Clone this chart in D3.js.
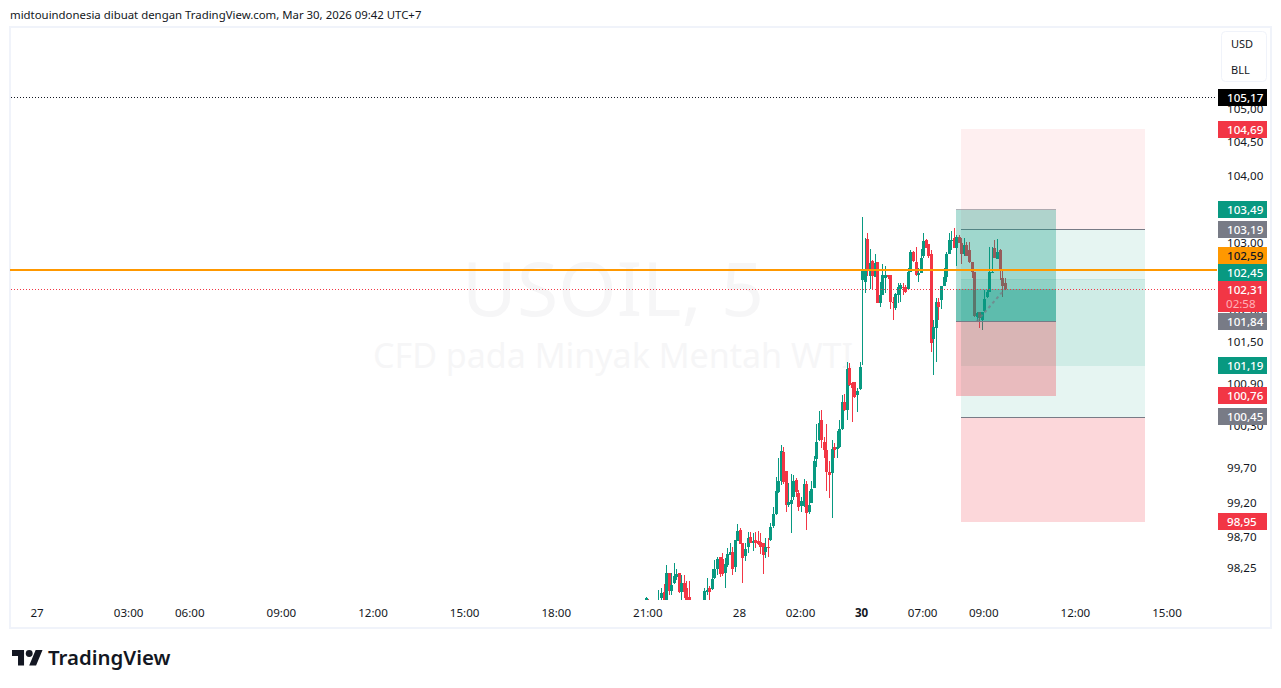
<!DOCTYPE html>
<html>
<head>
<meta charset="utf-8">
<script src="https://cdn.jsdelivr.net/npm/d3@7"></script>
<style>
  html, body { margin: 0; padding: 0; background: #fff; overflow: hidden; }
  svg { display: block; }
  text { font-family: "Noto Sans", sans-serif; }
</style>
</head>
<body>
<div id="chart"></div>
<script>
// 5 minute candles, first one sits 85 bars left of the "30" session open
const firstBar = -85;
const open = [
  97.78, 97.85, 97.70, 97.74, 97.70, 97.77, 97.88, 97.96, 97.79, 98.23,
  97.98, 98.09, 98.17, 98.23, 97.96, 98.09, 98.02, 97.89, 97.79, 97.72,
  97.65, 97.70, 97.66, 97.77, 97.96, 98.02, 98.00, 98.16, 98.29, 98.46,
  98.43, 98.23, 98.34, 98.48, 98.53, 98.31, 98.68, 98.84, 98.65, 98.47,
  98.60, 98.74, 98.65, 98.70, 98.68, 98.67, 98.65, 98.53, 98.60, 98.70,
  98.89, 99.06, 99.38, 99.53, 99.95, 99.68, 99.19, 99.21, 99.31, 99.55,
  99.36, 99.18, 99.18, 99.49, 99.09, 99.22, 99.43, 99.85, 100.12, 100.41,
  100.09, 99.98, 99.66, 99.65, 100.02, 99.99, 100.02, 100.28, 100.67, 100.55,
  101.16, 100.94, 100.96, 100.77, 100.86, 102.45, 102.42, 103.05, 102.51, 102.73,
  102.49, 102.71, 102.11, 102.23, 102.48, 102.53, 102.53, 102.12, 102.04, 102.23,
  102.31, 102.34, 102.34, 102.31, 102.56, 102.86, 102.71, 102.52, 102.55, 102.80,
  103.04, 102.98, 102.83, 101.58, 101.74, 102.12, 102.15, 102.36, 102.49, 102.83,
  103.02, 103.07, 102.92, 103.09, 102.99, 102.83, 102.96, 102.89, 102.71, 102.56,
  101.90, 101.98, 101.86, 101.99, 102.20, 102.27, 102.55, 102.92, 102.76, 102.89,
  102.48, 102.40
];
const high = [
  97.89, 97.86, 97.76, 97.77, 97.80, 97.99, 98.02, 98.07, 98.34, 98.23,
  98.23, 98.37, 98.29, 98.23, 98.20, 98.20, 98.12, 98.12, 97.80, 97.75,
  97.74, 97.73, 97.78, 98.02, 98.16, 98.05, 98.29, 98.41, 98.46, 98.46,
  98.51, 98.44, 98.58, 98.65, 98.60, 98.70, 98.92, 98.86, 98.65, 98.65,
  98.81, 98.81, 98.79, 98.81, 98.82, 98.79, 98.65, 98.72, 98.72, 98.93,
  99.16, 99.59, 99.86, 100.05, 100.02, 99.68, 99.51, 99.63, 99.62, 99.58,
  99.41, 99.31, 99.56, 99.53, 99.39, 99.53, 99.89, 100.35, 100.54, 100.55,
  100.16, 100.35, 99.82, 100.12, 100.08, 100.25, 100.41, 100.77, 100.78, 101.25,
  101.23, 100.96, 100.96, 100.87, 101.25, 103.38, 103.07, 103.15, 102.90, 102.74,
  102.83, 102.71, 102.42, 102.68, 102.65, 102.53, 102.53, 102.20, 102.26, 102.40,
  102.40, 102.40, 102.37, 102.62, 102.89, 102.87, 102.93, 102.62, 102.90, 103.14,
  103.05, 102.98, 102.89, 101.86, 102.18, 102.18, 102.36, 102.62, 102.86, 103.14,
  103.17, 103.21, 103.11, 103.12, 103.07, 103.07, 103.01, 103.01, 102.71, 102.56,
  101.98, 101.98, 101.98, 102.30, 102.30, 102.93, 102.93, 103.04, 103.05, 102.90,
  102.59, 102.48
];
const low = [
  97.71, 97.71, 97.68, 97.66, 97.68, 97.71, 97.77, 97.71, 97.74, 97.92,
  97.92, 98.07, 98.13, 97.95, 97.82, 97.88, 97.77, 97.74, 97.66, 97.60,
  97.62, 97.62, 97.64, 97.74, 97.92, 97.85, 97.99, 98.14, 98.20, 98.17,
  98.19, 98.02, 98.31, 98.48, 98.20, 98.24, 98.68, 98.64, 98.09, 98.40,
  98.51, 98.65, 98.54, 98.58, 98.62, 98.50, 98.21, 98.44, 98.46, 98.68,
  98.86, 99.05, 99.36, 99.48, 99.49, 99.09, 99.16, 98.79, 99.26, 99.31,
  99.11, 99.09, 99.16, 98.84, 99.06, 99.22, 99.43, 99.73, 100.11, 100.01,
  99.86, 99.39, 99.29, 99.01, 99.86, 99.86, 100.01, 100.27, 100.54, 100.41,
  100.90, 100.38, 100.73, 100.52, 100.84, 101.20, 102.26, 102.51, 102.31, 102.31,
  102.49, 102.11, 102.06, 102.23, 102.26, 102.46, 102.02, 101.86, 102.01, 102.11,
  102.12, 102.23, 102.26, 102.30, 102.56, 102.71, 102.51, 102.42, 102.55, 102.78,
  102.92, 102.78, 101.39, 101.06, 101.25, 101.86, 102.02, 102.36, 102.42, 102.83,
  102.89, 102.92, 102.65, 102.99, 102.68, 102.81, 102.81, 102.70, 102.48, 101.90,
  101.85, 101.74, 101.71, 101.98, 102.18, 102.27, 102.55, 102.78, 102.76, 102.45,
  102.20, 102.30
];
const close = [
  97.88, 97.77, 97.74, 97.70, 97.76, 97.85, 97.95, 97.79, 98.23, 97.98,
  98.06, 98.19, 98.21, 97.96, 98.09, 97.96, 97.81, 97.79, 97.72, 97.65,
  97.70, 97.66, 97.74, 97.98, 97.99, 97.96, 98.14, 98.29, 98.43, 98.21,
  98.21, 98.36, 98.50, 98.53, 98.29, 98.70, 98.82, 98.64, 98.44, 98.57,
  98.72, 98.65, 98.68, 98.65, 98.64, 98.60, 98.48, 98.60, 98.58, 98.88,
  99.06, 99.39, 99.53, 99.96, 99.52, 99.19, 99.23, 99.26, 99.53, 99.38,
  99.16, 99.25, 99.49, 99.08, 99.19, 99.42, 99.82, 100.09, 100.37, 100.12,
  99.98, 99.66, 99.62, 99.99, 99.98, 100.02, 100.28, 100.67, 100.55, 101.15,
  100.91, 100.87, 100.74, 100.83, 101.18, 102.58, 102.58, 102.58, 102.70, 102.51,
  102.70, 102.11, 102.23, 102.52, 102.52, 102.49, 102.12, 102.11, 102.24, 102.34,
  102.37, 102.33, 102.27, 102.56, 102.86, 102.73, 102.52, 102.55, 102.78, 103.02,
  102.92, 102.81, 101.52, 101.76, 102.12, 102.05, 102.36, 102.49, 102.83, 103.04,
  103.04, 102.92, 103.08, 102.99, 102.83, 102.96, 102.81, 102.71, 102.56, 101.92,
  101.96, 101.89, 101.98, 102.17, 102.28, 102.56, 102.56, 102.78, 102.86, 102.59,
  102.36, 102.31
];

// price axis
const tickPrices = [105, 104.5, 104, 103, 102, 101.55, 100.93, 100.32, 99.73, 99.23, 98.74, 98.3];
const tickLabels = ["105,00", "104,50", "104,00", "103,00", "102,00", "101,50", "100,90", "100,30", "99,70", "99,20", "98,70", "98,25"];

// time axis, in bars from the "30" open
const timeBars = [-324, -288, -264, -228, -192, -156, -120, -84, -48, -24, 0, 24, 48, 84, 120];
const timeLabels = ["27", "03:00", "06:00", "09:00", "12:00", "15:00", "18:00", "21:00", "28", "02:00", "30", "07:00", "09:00", "12:00", "15:00"];

// price tags on the right
const tagPrices = [105.17, 104.69, 103.49, 103.19, 102.59, 102.45, 102.31, 101.84, 101.19, 100.76, 100.45, 98.95];
const tagTexts = ["105,17", "104,69", "103,49", "103,19", "102,59", "102,45", "102,31", "101,84", "101,19", "100,76", "100,45", "98,95"];
const tagColors = ["#000000", "#f23645", "#089981", "#787b86", "#ff9800", "#089981", "#f23645", "#787b86", "#089981", "#f23645", "#787b86", "#f23645"];

const lastPrice = 102.31;
const countdown = "02:58";
const alertPrice = 102.59;
const highLine = 105.17;

// position tools [left bar, right bar, then prices top to bottom]
const posA = [37, 76, 103.49, 101.84, 100.76];
const posB = [39, 111, 104.69, 103.19, 100.45, 98.95];
const posC = [39, 111, 102.45, 101.19];

const width = 1281, height = 688;
const green = "#089981", red = "#f23645", gray = "#787b86";
const frame = {left: 11, right: 1270, top: 28, bottom: 627};
const plotBottom = 600, plotRight = 1217;

const x = d3.scaleLinear().domain([-324, 120]).range([37.5, 1167.5]);
const y = d3.scaleLog().domain([105.17, 98.95]).range([97.5, 522]);

const svg = d3.select("#chart").append("svg")
    .attr("width", width)
    .attr("height", height);

svg.append("text")
    .attr("x", 10).attr("y", 19)
    .attr("font-size", 11.4).attr("fill", "#131722")
    .text("midtouindonesia dibuat dengan TradingView.com, Mar 30, 2026 09:42 UTC+7");

svg.append("rect")
    .attr("x", frame.left - 1).attr("y", frame.top - 1)
    .attr("width", frame.right - frame.left + 2).attr("height", frame.bottom - frame.top + 2)
    .attr("fill", "#fff").attr("stroke", "#f0f3fa").attr("stroke-width", 2);

// watermark
svg.append("text")
    .attr("x", 613).attr("y", 316).attr("text-anchor", "middle")
    .attr("font-size", 75).attr("fill", "#f6f6f7")
    .attr("font-family", "Lato, sans-serif")
    .text("USOIL, 5");
svg.append("text")
    .attr("x", 613).attr("y", 368).attr("text-anchor", "middle")
    .attr("font-size", 34).attr("fill", "#f6f6f7")
    .attr("font-family", "Lato, sans-serif")
    .text("CFD pada Minyak Mentah WTI");

svg.append("defs").append("clipPath").attr("id", "plot").append("rect")
    .attr("x", frame.left).attr("y", frame.top)
    .attr("width", plotRight - frame.left).attr("height", plotBottom - frame.top);

const plot = svg.append("g").attr("clip-path", "url(#plot)").attr("shape-rendering", "crispEdges");

// candles
const bars = open.map((o, i) => ({i: firstBar + i, o: o, h: high[i], l: low[i], c: close[i]}));
const candle = plot.selectAll("g.candle").data(bars).enter().append("g").attr("class", "candle");
candle.append("rect")
    .attr("x", d => Math.round(x(d.i)))
    .attr("width", 1)
    .attr("y", d => y(d.h))
    .attr("height", d => y(d.l) - y(d.h))
    .attr("fill", d => d.c >= d.o ? green : red);
candle.append("rect")
    .attr("x", d => Math.round(x(d.i)) - 1)
    .attr("width", 3)
    .attr("y", d => y(Math.max(d.o, d.c)))
    .attr("height", d => Math.max(1, Math.abs(y(d.o) - y(d.c))))
    .attr("fill", d => d.c >= d.o ? green : red);

function zone(x0, x1, top, bottom, fill) {
  plot.append("rect")
      .attr("x", x(x0)).attr("width", x(x1) - x(x0))
      .attr("y", y(top)).attr("height", y(bottom) - y(top))
      .attr("fill", fill);
}
function edge(x0, x1, price, color) {
  plot.append("line")
      .attr("x1", x(x0)).attr("x2", x(x1))
      .attr("y1", y(price)).attr("y2", y(price))
      .attr("stroke", color);
}

// wide position
zone(posB[0], posB[1], posB[2], posB[3], "rgba(242,54,69,0.08)");
zone(posB[0], posB[1], posB[3], posB[4], "rgba(8,153,129,0.1)");
zone(posB[0], posB[1], posB[4], posB[5], "rgba(242,54,69,0.2)");
edge(posB[0], posB[1], posB[3], gray);
edge(posB[0], posB[1], posB[4], gray);

// inner green band
zone(posC[0], posC[1], posC[2], posC[3], "rgba(8,153,129,0.1)");
edge(posC[0], posC[1], posC[2], "rgba(8,153,129,0.15)");

// narrow position
zone(posA[0], posA[1], posA[2], posA[3], "rgba(8,153,129,0.32)");
zone(posA[0], posA[1], posA[3], posA[4], "rgba(242,54,69,0.3)");
zone(posA[0], posA[1], lastPrice, posA[3], "rgba(8,153,129,0.36)");
edge(posA[0], posA[1], posA[2], "rgba(120,123,134,0.6)");
edge(posA[0], posA[1], posA[3], gray);

// entry to last price link
plot.append("line")
    .attr("x1", x(45)).attr("y1", y(posA[3]))
    .attr("x2", x(56)).attr("y2", y(lastPrice))
    .attr("stroke", gray).attr("stroke-width", 2)
    .attr("stroke-dasharray", "3 3").attr("opacity", 0.7)
    .attr("shape-rendering", "auto");

// level lines
svg.append("line")
    .attr("x1", frame.left).attr("x2", plotRight)
    .attr("y1", Math.floor(y(highLine)) + 0.5).attr("y2", Math.floor(y(highLine)) + 0.5)
    .attr("stroke", "#131722").attr("stroke-dasharray", "1 2");
svg.append("line")
    .attr("x1", frame.left).attr("x2", plotRight)
    .attr("y1", Math.floor(y(lastPrice)) + 0.5).attr("y2", Math.floor(y(lastPrice)) + 0.5)
    .attr("stroke", red).attr("stroke-dasharray", "1 2");
svg.append("line")
    .attr("x1", frame.left - 1).attr("x2", plotRight)
    .attr("y1", Math.round(y(alertPrice))).attr("y2", Math.round(y(alertPrice)))
    .attr("stroke", "#ff9800").attr("stroke-width", 2);

// axes
const yAxis = d3.axisRight(y).tickValues(tickPrices)
    .tickFormat((d, i) => tickLabels[i]).tickSize(0).tickPadding(0);
const yAxisG = svg.append("g").attr("transform", "translate(1227,0)").call(yAxis);
yAxisG.select(".domain").remove();
yAxisG.selectAll("text").attr("font-size", 11.6).attr("fill", "#131722").attr("font-family", "\"Noto Sans\", sans-serif");

const xAxis = d3.axisBottom(x).tickValues(timeBars)
    .tickFormat((d, i) => timeLabels[i]).tickSize(0).tickPadding(0);
const xAxisG = svg.append("g").attr("transform", "translate(-1,609)").call(xAxis);
xAxisG.select(".domain").remove();
xAxisG.selectAll("text").attr("font-size", 11.6).attr("fill", "#131722").attr("font-family", "\"Noto Sans\", sans-serif")
    .attr("font-weight", (d, i) => timeLabels[i] === "30" ? 700 : 400);

// price tags, pushed up from the bottom so they do not overlap
const tags = tagPrices.map((p, i) => ({p: p, text: tagTexts[i], color: tagColors[i], two: p === lastPrice}))
    .sort((a, b) => a.p - b.p);
let prevTop = Infinity;
tags.forEach(t => {
  const h = t.two ? 31 : 17;
  let top = Math.round(y(t.p) - 0.8) - 8;
  if (top + h > prevTop) top = prevTop - h;
  t.top = top;
  prevTop = top;
});
const tag = svg.selectAll("g.tag").data(tags).enter().append("g").attr("class", "tag")
    .attr("transform", d => "translate(1218," + d.top + ")");
tag.append("rect")
    .attr("width", 49).attr("height", d => d.two ? 31 : 17)
    .attr("fill", d => d.color);
tag.append("text")
    .attr("x", 9).attr("y", 13)
    .attr("font-size", 11.6).attr("font-weight", 500)
    .attr("fill", d => d.color === "#ff9800" ? "#131722" : "#fff")
    .text(d => d.text);
tag.filter(d => d.two).append("text")
    .attr("x", 8).attr("y", 27)
    .attr("font-size", 11.6).attr("fill", "#ffb2b9")
    .text(countdown);

// currency / unit button
svg.append("rect")
    .attr("x", 1221.5).attr("y", 31.5).attr("width", 45).attr("height", 50).attr("rx", 4)
    .attr("fill", "#fff").attr("stroke", "#f0f3fa");
svg.append("text").attr("x", 1231).attr("y", 48).attr("font-size", 11).attr("fill", "#131722").text("USD");
svg.append("text").attr("x", 1231).attr("y", 74).attr("font-size", 11).attr("fill", "#131722").text("BLL");

// TradingView logo
const logo = svg.append("g").attr("transform", "translate(12,644) scale(0.86)").attr("fill", "#131722");
logo.append("path").attr("d", "M14 25H7V14H0V7h14v18Zm14 0h-8l7.5-18h8L28 25Z");
logo.append("circle").attr("cx", 20).attr("cy", 11).attr("r", 4);
svg.append("text")
    .attr("x", 48).attr("y", 665)
    .attr("font-size", 20.4).attr("font-weight", 600).attr("fill", "#131722")
    .attr("font-family", "Inter, sans-serif")
    .text("TradingView");
</script>
</body>
</html>
